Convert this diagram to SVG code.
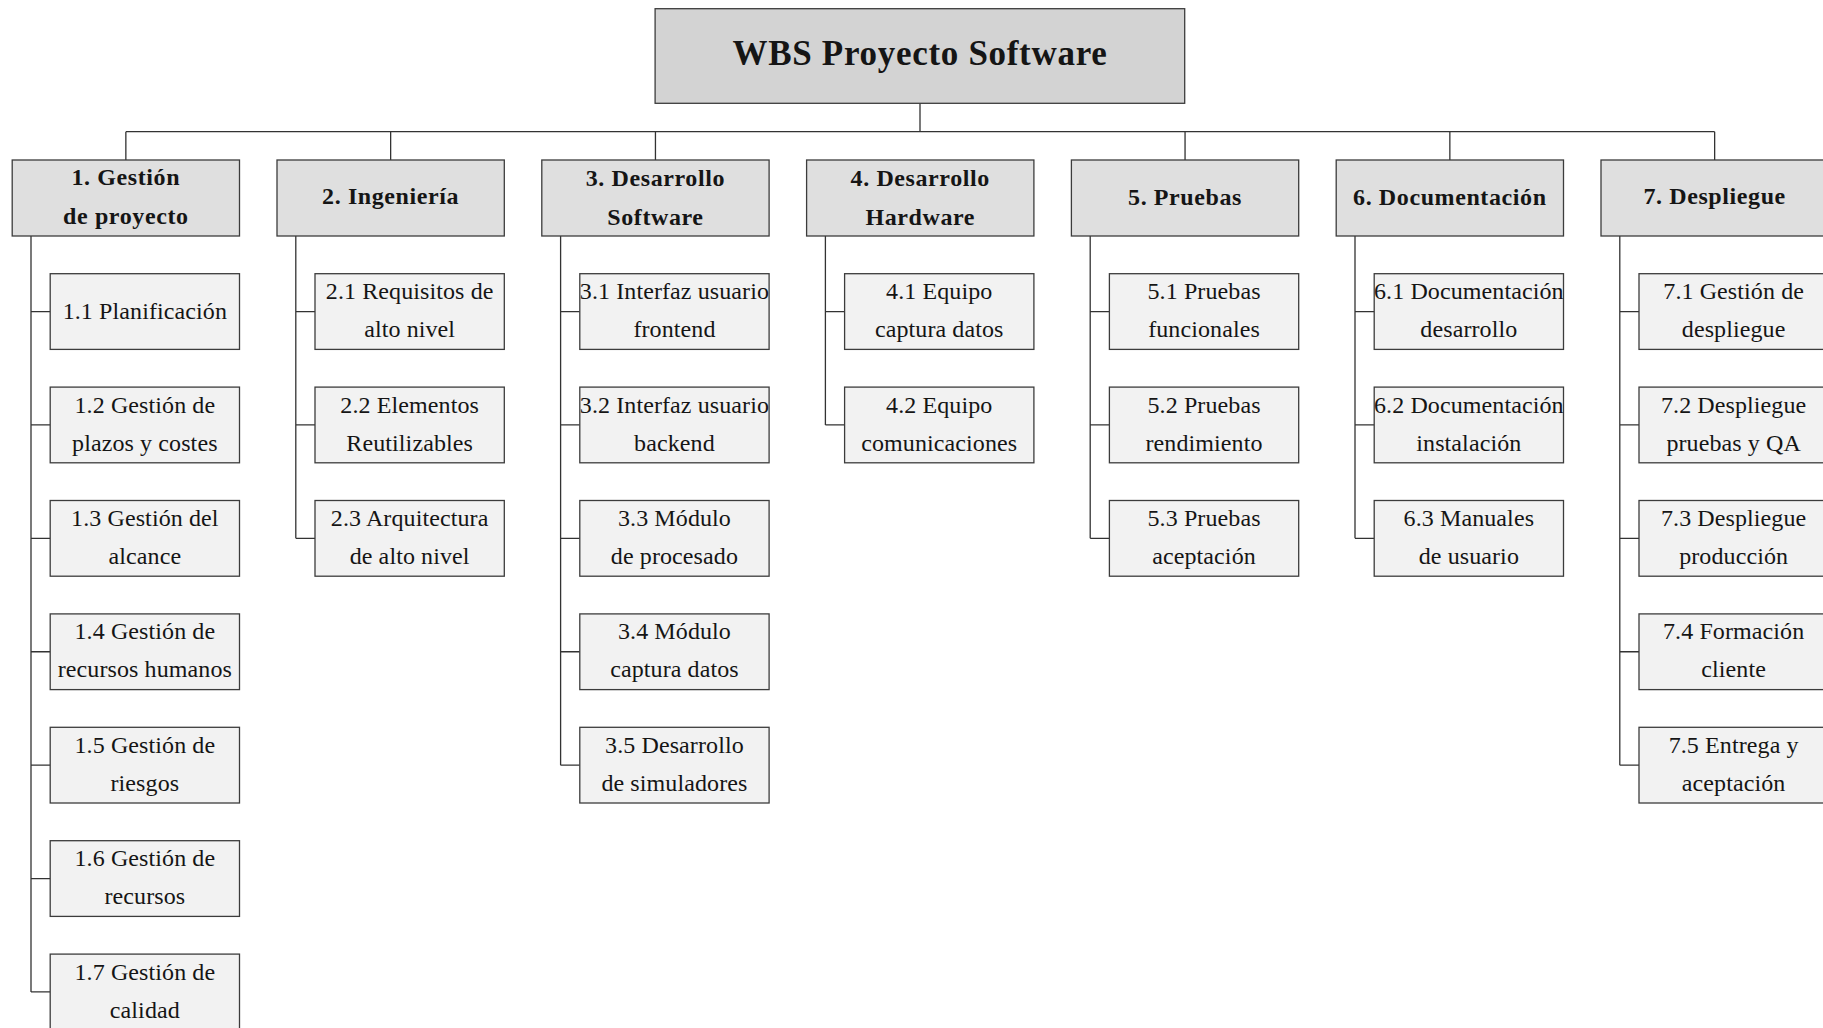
<svg xmlns="http://www.w3.org/2000/svg" width="1823" height="1028" viewBox="0 0 1823 1028">
  <style>
    .root rect { fill: #d3d3d3; stroke: #3c3c3c; stroke-width: 1.3; }
    .l1 rect { fill: #dfdfdf; stroke: #3c3c3c; stroke-width: 1.3; }
    .l2 rect { fill: #f2f2f2; stroke: #3c3c3c; stroke-width: 1.3; }
    text { font-family: "Liberation Serif", "DejaVu Serif", serif; fill: #151515; text-anchor: middle; }
    .root text { font-size: 35px; font-weight: bold; letter-spacing: 0.7px; }
    .l1 text { font-size: 24px; font-weight: bold; letter-spacing: 0.6px; }
    .l2 text { font-size: 24px; letter-spacing: 0.1px; }
    .links path { fill: none; stroke: #333; stroke-width: 1.3; }
  </style>
  <rect width="1823" height="1028" fill="#ffffff"/>

  <!-- tree connectors -->
  <g class="links">
    <path d="M920 103.3 V131.7 M125.85 131.7 H1714.65 M125.85 131.7 V160 M390.65 131.7 V160 M655.45 131.7 V160 M1185.05 131.7 V160 M1449.85 131.7 V160 M1714.65 131.7 V160"/>
    <!-- column 1 -->
    <path d="M31 236 V991.95 M31 311.55 H50.2 M31 424.95 H50.2 M31 538.35 H50.2 M31 651.75 H50.2 M31 765.15 H50.2 M31 878.55 H50.2 M31 991.95 H50.2"/>
    <!-- column 2 -->
    <path d="M295.8 236 V538.35 M295.8 311.55 H315 M295.8 424.95 H315 M295.8 538.35 H315"/>
    <!-- column 3 -->
    <path d="M560.6 236 V765.15 M560.6 311.55 H579.8 M560.6 424.95 H579.8 M560.6 538.35 H579.8 M560.6 651.75 H579.8 M560.6 765.15 H579.8"/>
    <!-- column 4 -->
    <path d="M825.4 236 V424.95 M825.4 311.55 H844.6 M825.4 424.95 H844.6"/>
    <!-- column 5 -->
    <path d="M1090.2 236 V538.35 M1090.2 311.55 H1109.4 M1090.2 424.95 H1109.4 M1090.2 538.35 H1109.4"/>
    <!-- column 6 -->
    <path d="M1355 236 V538.35 M1355 311.55 H1374.2 M1355 424.95 H1374.2 M1355 538.35 H1374.2"/>
    <!-- column 7 -->
    <path d="M1619.8 236 V765.15 M1619.8 311.55 H1639 M1619.8 424.95 H1639 M1619.8 538.35 H1639 M1619.8 651.75 H1639 M1619.8 765.15 H1639"/>
  </g>

  <!-- root -->
  <g id="root" class="root">
    <rect x="655.1" y="8.7" width="529.6" height="94.6"/>
    <text x="920" y="64.5">WBS Proyecto Software</text>
  </g>

  <!-- level 1 -->
  <g id="n1" class="l1"><rect x="12.2" y="160" width="227.3" height="76"/><text x="125.85" y="184.5">1. Gestión</text><text x="125.85" y="224">de proyecto</text></g>
  <g id="n2" class="l1"><rect x="277" y="160" width="227.3" height="76"/><text x="390.65" y="203.5">2. Ingeniería</text></g>
  <g id="n3" class="l1"><rect x="541.8" y="160" width="227.3" height="76"/><text x="655.45" y="185.5">3. Desarrollo</text><text x="655.45" y="225">Software</text></g>
  <g id="n4" class="l1"><rect x="806.6" y="160" width="227.3" height="76"/><text x="920.25" y="185.5">4. Desarrollo</text><text x="920.25" y="225">Hardware</text></g>
  <g id="n5" class="l1"><rect x="1071.4" y="160" width="227.3" height="76"/><text x="1185.05" y="205">5. Pruebas</text></g>
  <g id="n6" class="l1"><rect x="1336.2" y="160" width="227.3" height="76"/><text x="1449.85" y="205">6. Documentación</text></g>
  <g id="n7" class="l1"><rect x="1601" y="160" width="227.3" height="76"/><text x="1714.65" y="203.5">7. Despliegue</text></g>

  <!-- 1.x -->
  <g id="n1_1" class="l2"><rect x="50.2" y="273.7" width="189.3" height="75.7"/><text x="144.85" y="319.2">1.1 Planificación</text></g>
  <g id="n1_2" class="l2"><rect x="50.2" y="387.1" width="189.3" height="75.7"/><text x="144.85" y="412.6">1.2 Gestión de</text><text x="144.85" y="450.6">plazos y costes</text></g>
  <g id="n1_3" class="l2"><rect x="50.2" y="500.5" width="189.3" height="75.7"/><text x="144.85" y="526">1.3 Gestión del</text><text x="144.85" y="564">alcance</text></g>
  <g id="n1_4" class="l2"><rect x="50.2" y="613.9" width="189.3" height="75.7"/><text x="144.85" y="639.4">1.4 Gestión de</text><text x="144.85" y="677.4">recursos humanos</text></g>
  <g id="n1_5" class="l2"><rect x="50.2" y="727.3" width="189.3" height="75.7"/><text x="144.85" y="752.8">1.5 Gestión de</text><text x="144.85" y="790.8">riesgos</text></g>
  <g id="n1_6" class="l2"><rect x="50.2" y="840.7" width="189.3" height="75.7"/><text x="144.85" y="866.2">1.6 Gestión de</text><text x="144.85" y="904.2">recursos</text></g>
  <g id="n1_7" class="l2"><rect x="50.2" y="954.1" width="189.3" height="75.7"/><text x="144.85" y="979.6">1.7 Gestión de</text><text x="144.85" y="1017.6">calidad</text></g>

  <!-- 2.x -->
  <g id="n2_1" class="l2"><rect x="315" y="273.7" width="189.3" height="75.7"/><text x="409.65" y="299.2">2.1 Requisitos de</text><text x="409.65" y="337.2">alto nivel</text></g>
  <g id="n2_2" class="l2"><rect x="315" y="387.1" width="189.3" height="75.7"/><text x="409.65" y="412.6">2.2 Elementos</text><text x="409.65" y="450.6">Reutilizables</text></g>
  <g id="n2_3" class="l2"><rect x="315" y="500.5" width="189.3" height="75.7"/><text x="409.65" y="526">2.3 Arquitectura</text><text x="409.65" y="564">de alto nivel</text></g>

  <!-- 3.x -->
  <g id="n3_1" class="l2"><rect x="579.8" y="273.7" width="189.3" height="75.7"/><text x="674.45" y="299.2">3.1 Interfaz usuario</text><text x="674.45" y="337.2">frontend</text></g>
  <g id="n3_2" class="l2"><rect x="579.8" y="387.1" width="189.3" height="75.7"/><text x="674.45" y="412.6">3.2 Interfaz usuario</text><text x="674.45" y="450.6">backend</text></g>
  <g id="n3_3" class="l2"><rect x="579.8" y="500.5" width="189.3" height="75.7"/><text x="674.45" y="526">3.3 Módulo</text><text x="674.45" y="564">de procesado</text></g>
  <g id="n3_4" class="l2"><rect x="579.8" y="613.9" width="189.3" height="75.7"/><text x="674.45" y="639.4">3.4 Módulo</text><text x="674.45" y="677.4">captura datos</text></g>
  <g id="n3_5" class="l2"><rect x="579.8" y="727.3" width="189.3" height="75.7"/><text x="674.45" y="752.8">3.5 Desarrollo</text><text x="674.45" y="790.8">de simuladores</text></g>

  <!-- 4.x -->
  <g id="n4_1" class="l2"><rect x="844.6" y="273.7" width="189.3" height="75.7"/><text x="939.25" y="299.2">4.1 Equipo</text><text x="939.25" y="337.2">captura datos</text></g>
  <g id="n4_2" class="l2"><rect x="844.6" y="387.1" width="189.3" height="75.7"/><text x="939.25" y="412.6">4.2 Equipo</text><text x="939.25" y="450.6">comunicaciones</text></g>

  <!-- 5.x -->
  <g id="n5_1" class="l2"><rect x="1109.4" y="273.7" width="189.3" height="75.7"/><text x="1204.05" y="299.2">5.1 Pruebas</text><text x="1204.05" y="337.2">funcionales</text></g>
  <g id="n5_2" class="l2"><rect x="1109.4" y="387.1" width="189.3" height="75.7"/><text x="1204.05" y="412.6">5.2 Pruebas</text><text x="1204.05" y="450.6">rendimiento</text></g>
  <g id="n5_3" class="l2"><rect x="1109.4" y="500.5" width="189.3" height="75.7"/><text x="1204.05" y="526">5.3 Pruebas</text><text x="1204.05" y="564">aceptación</text></g>

  <!-- 6.x -->
  <g id="n6_1" class="l2"><rect x="1374.2" y="273.7" width="189.3" height="75.7"/><text x="1468.85" y="299.2">6.1 Documentación</text><text x="1468.85" y="337.2">desarrollo</text></g>
  <g id="n6_2" class="l2"><rect x="1374.2" y="387.1" width="189.3" height="75.7"/><text x="1468.85" y="412.6">6.2 Documentación</text><text x="1468.85" y="450.6">instalación</text></g>
  <g id="n6_3" class="l2"><rect x="1374.2" y="500.5" width="189.3" height="75.7"/><text x="1468.85" y="526">6.3 Manuales</text><text x="1468.85" y="564">de usuario</text></g>

  <!-- 7.x -->
  <g id="n7_1" class="l2"><rect x="1639" y="273.7" width="189.3" height="75.7"/><text x="1733.65" y="299.2">7.1 Gestión de</text><text x="1733.65" y="337.2">despliegue</text></g>
  <g id="n7_2" class="l2"><rect x="1639" y="387.1" width="189.3" height="75.7"/><text x="1733.65" y="412.6">7.2 Despliegue</text><text x="1733.65" y="450.6">pruebas y QA</text></g>
  <g id="n7_3" class="l2"><rect x="1639" y="500.5" width="189.3" height="75.7"/><text x="1733.65" y="526">7.3 Despliegue</text><text x="1733.65" y="564">producción</text></g>
  <g id="n7_4" class="l2"><rect x="1639" y="613.9" width="189.3" height="75.7"/><text x="1733.65" y="639.4">7.4 Formación</text><text x="1733.65" y="677.4">cliente</text></g>
  <g id="n7_5" class="l2"><rect x="1639" y="727.3" width="189.3" height="75.7"/><text x="1733.65" y="752.8">7.5 Entrega y</text><text x="1733.65" y="790.8">aceptación</text></g>
</svg>
